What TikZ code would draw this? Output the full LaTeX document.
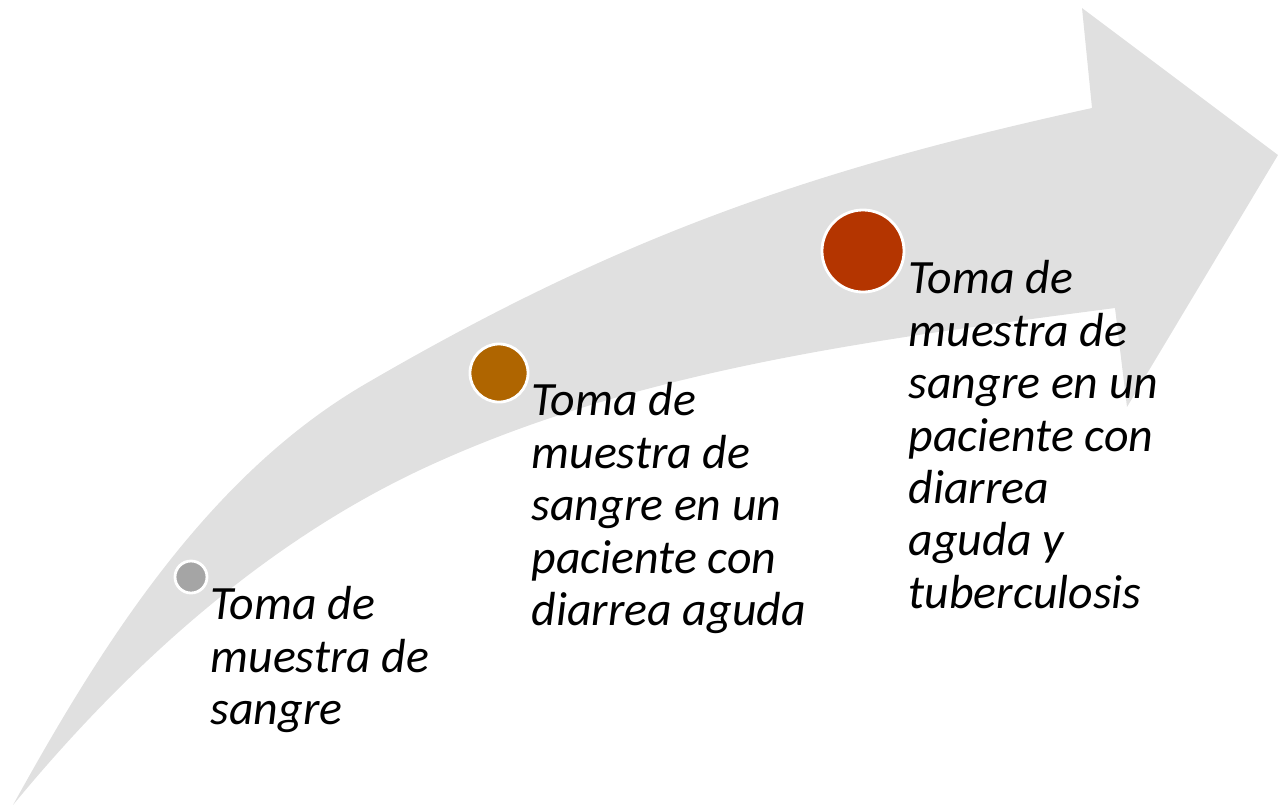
\documentclass[tikz,border=0pt]{standalone}
\usepackage{fontspec}
\setmainfont{Carlito}
\usetikzlibrary{positioning}

\definecolor{bandgray}{HTML}{E0E0E0}
\definecolor{dotgray}{HTML}{A5A5A5}
\definecolor{dotbrown}{HTML}{AF6500}
\definecolor{dotred}{HTML}{B43500}

\begin{document}
\begin{tikzpicture}[x=0.01cm,y=-0.01cm]
 	\tikzstyle{every node}+=[inner sep=0pt]
 	\tikzstyle{stagedot}=[circle, draw=white, line width=0.8pt]
 	\tikzstyle{stage}=[anchor=north west, align=left, font=\itshape\fontsize{13.6}{14.9}\selectfont]
 	\useasboundingbox (0,0) rectangle (1278,808);
 	% curved band with its head
 	\fill [bandgray] (13,805) .. controls (102,644) and (208,475) .. (367,383)
 		.. controls (618,237) and (809,170) .. (1092,108)
 		-- (1082,8) -- (1278,155) -- (1127,407) -- (1115,308)
 		.. controls (879,339) and (635,369) .. (420,470)
 		.. controls (261,545) and (125,669) .. (13,805) -- cycle;
 	% stages
 	\node [stagedot, fill=dotgray, minimum size=0.32cm] (d1) at (191,577) {};
 	\node [stagedot, fill=dotbrown, minimum size=0.58cm] (d2) at (499,373) {};
 	\node [stagedot, fill=dotred, minimum size=0.82cm] (d3) at (863,251) {};
 	\node [stage] (t1) at (210,586) {Toma de\\muestra de\\sangre};
 	\node [stage] (t2) at (531,382) {Toma de\\muestra de\\sangre en un\\paciente con\\diarrea aguda};
 	\node [stage] (t3) at (908,260) {Toma de\\muestra de\\sangre en un\\paciente con\\diarrea\\aguda y\\tuberculosis};
\end{tikzpicture}
\end{document}
